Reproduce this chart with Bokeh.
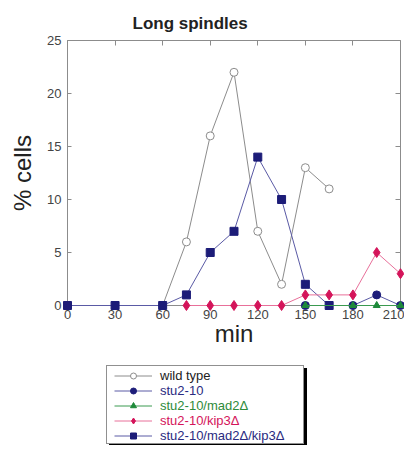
from bokeh.plotting import figure
from bokeh.layouts import column
from bokeh.models import (Legend, LegendItem, LinearAxis, FixedTicker, Range1d,
                          CustomJSTickFormatter)
from bokeh.embed import file_html
from bokeh.resources import INLINE

# ---- data ----
x_ticks = [0, 30, 60, 90, 120, 150, 180, 210]
y_ticks = [0, 5, 10, 15, 20, 25]

wt_x = [60, 75, 90, 105, 120, 135, 150, 165]
wt_y = [0, 6, 16, 22, 7, 2, 13, 11]
stu_x = [150, 180, 195, 210]
stu_y = [0, 0, 1, 0]
mad2_x = [150, 180, 195, 210]
mad2_y = [0, 0, 0, 0]
kip3_x = [75, 90, 105, 120, 135, 150, 165, 180, 195, 210]
kip3_y = [0, 0, 0, 0, 0, 1, 1, 1, 5, 3]
dbl_x = [0, 30, 60, 75, 90, 105, 120, 135, 150, 165]
dbl_y = [0, 0, 0, 1, 5, 7, 14, 10, 2, 0]

labels = ["wild type", "stu2-10", "stu2-10/mad2Δ", "stu2-10/kip3Δ", "stu2-10/mad2Δ/kip3Δ"]
label_colors = ["#222222", "#2a2a80", "#2e8b3a", "#d4145a", "#2a2a80"]

# ---- styles per series (order as labels) ----
styles = [
    dict(line="#8c8c8c", marker="circle", size=8, lsize=6, fill="white", mline="#8c8c8c"),
    dict(line="#5a5aa5", marker="circle", size=8, lsize=6, fill="#1e1e7a", mline="#1e1e7a"),
    dict(line="#3a9a50", marker="triangle", size=7, lsize=6, fill="#1e8a3a", mline="#1e8a3a"),
    dict(line="#e8709a", marker="diamond", size=10, lsize=7, fill="#d4145a", mline="#d4145a"),
    dict(line="#5a5aa5", marker="square", size=8, lsize=6, fill="#1c1c78", mline="#1c1c78"),
]
data = [(wt_x, wt_y), (stu_x, stu_y), (mad2_x, mad2_y), (kip3_x, kip3_y), (dbl_x, dbl_y)]
draw_order = [0, 4, 3, 1, 2]

FONT = "Liberation Sans"
W = 404
FRAME_LEFT = 67
FRAME_RIGHT = 400
FRAME_TOP = 40
FRAME_BOTTOM = 305
H_MAIN = 353
H_LEG = 92

p = figure(width=W, height=H_MAIN, output_backend="svg", toolbar_location=None,
           x_range=Range1d(0, 210), y_range=Range1d(0, 25),
           min_border_left=FRAME_LEFT, min_border_right=W - FRAME_RIGHT,
           min_border_top=FRAME_TOP, min_border_bottom=H_MAIN - FRAME_BOTTOM,
           x_axis_label="min", y_axis_label="% cells")
p.grid.visible = False
p.outline_line_color = "#8c8c8c"
p.outline_line_width = 1

p.title.text = "Long spindles"
p.title.align = "left"
p.title.offset = 65
p.title.standoff = 16
p.title.text_font = FONT
p.title.text_font_size = "17px"
p.title.text_font_style = "bold"
p.title.text_color = "#222222"

for ax in (p.xaxis[0], p.yaxis[0]):
    ax.axis_line_color = "#8c8c8c"
    ax.major_tick_line_color = "#8c8c8c"
    ax.major_tick_in = 4
    ax.major_tick_out = 0
    ax.minor_tick_line_color = None
    ax.major_label_text_font = FONT
    ax.major_label_text_font_size = "13px"
    ax.major_label_text_color = "#444444"
    ax.axis_label_text_font = FONT
    ax.axis_label_text_font_size = "24px"
    ax.axis_label_text_font_style = "normal"
    ax.axis_label_text_color = "#222222"
p.xaxis[0].ticker = FixedTicker(ticks=x_ticks)
p.yaxis[0].ticker = FixedTicker(ticks=y_ticks)
p.xaxis[0].major_label_standoff = 4
p.xaxis[0].axis_label_standoff = -2
p.yaxis[0].major_label_standoff = 6
p.yaxis[0].axis_label_standoff = 8

blank = CustomJSTickFormatter(code="return ''")
top_ax = LinearAxis(ticker=FixedTicker(ticks=x_ticks), axis_line_color=None,
                    major_tick_line_color="#8c8c8c", major_tick_in=5, major_tick_out=0,
                    minor_tick_line_color=None, formatter=blank,
                    major_label_standoff=0)
right_ax = LinearAxis(ticker=FixedTicker(ticks=y_ticks), axis_line_color=None,
                      major_tick_line_color="#8c8c8c", major_tick_in=5, major_tick_out=0,
                      minor_tick_line_color=None, formatter=blank,
                      major_label_standoff=0)
p.add_layout(top_ax, "above")
p.add_layout(right_ax, "right")

for i in draw_order:
    s = styles[i]
    xs, ys = data[i]
    p.line(xs, ys, line_color=s["line"], line_width=1, level="overlay")
    p.scatter(xs, ys, marker=s["marker"], size=s["size"], fill_color=s["fill"],
              line_color=s["mline"], line_width=1, level="overlay")

# ---- legend panel (renderers hold the same series but lie outside its view) ----
q = figure(width=W, height=H_LEG, output_backend="svg", toolbar_location=None,
           x_range=Range1d(1000, 1001), y_range=Range1d(1000, 1001),
           min_border=0, min_border_left=FRAME_LEFT, min_border_right=W - FRAME_RIGHT,
           x_axis_type=None, y_axis_type=None)
q.grid.visible = False
q.outline_line_color = None

legend_r = []
for s, (xs, ys) in zip(styles, data):
    lr = q.line(xs, ys, line_color=s["line"], line_width=1)
    mr = q.scatter(xs, ys, marker=s["marker"], size=s["lsize"], fill_color=s["fill"],
                   line_color=s["mline"], line_width=1)
    legend_r.append([lr, mr])
box_r = q.line(wt_x, wt_y, line_alpha=0)

PAD = 1
ROW = 15
LEG_TOP = 367 - H_MAIN
LEG_X = 39
BOX_W = 196
n = len(labels)
cont_h = 2 * PAD + n * ROW
cont_vy = H_LEG - (LEG_TOP + cont_h)

def box_legend(loc, fill, line):
    return Legend(items=[LegendItem(label=" ", renderers=[box_r]) for _ in labels],
                  location=loc, margin=0, spacing=0, padding=PAD,
                  glyph_width=BOX_W - 2 * PAD - 20, glyph_height=ROW,
                  label_height=ROW, label_width=20, label_standoff=0,
                  label_text_font_size="9px",
                  background_fill_color=fill, background_fill_alpha=1,
                  border_line_color=line, border_line_width=1)

q.add_layout(box_legend((LEG_X + 3, cont_vy - 3), "black", "black"), "center")
q.add_layout(box_legend((LEG_X, cont_vy), "white", "#222222"), "center")

RH = 15
for i, (t, r, c) in enumerate(zip(labels, legend_r, label_colors)):
    row_center = LEG_TOP + PAD + ROW * i + ROW / 2
    lg = Legend(items=[LegendItem(label=t, renderers=r)],
                location=(LEG_X + 8, H_LEG - (row_center + RH / 2)),
                margin=0, spacing=0, padding=0,
                glyph_width=38, glyph_height=RH, label_height=RH,
                label_standoff=8, label_text_font=FONT,
                label_text_font_size="13px", label_text_color=c,
                background_fill_alpha=0, border_line_color=None)
    q.add_layout(lg, "center")

layout = column(p, q, spacing=0)
open("out.html", "w").write(file_html(layout, INLINE))
